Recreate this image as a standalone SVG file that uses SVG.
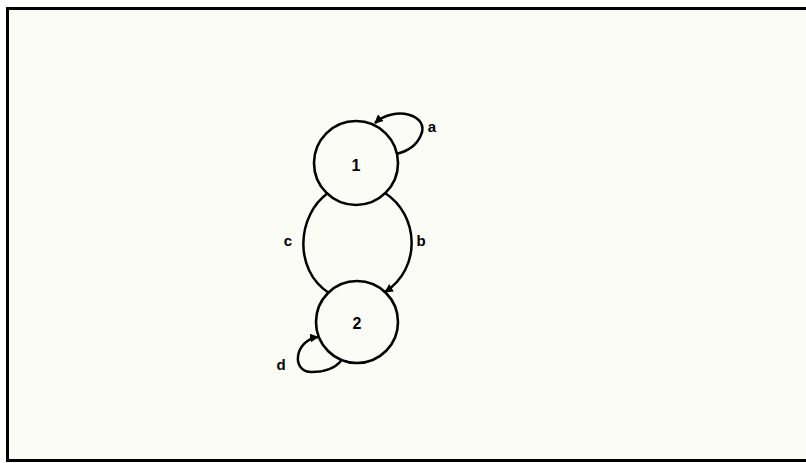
<svg xmlns="http://www.w3.org/2000/svg" width="806" height="463" viewBox="0 0 806 463">
<style>
.ln{fill:none;stroke:#000;stroke-width:2.5}
.nd{fill:none;stroke:#000;stroke-width:2.6}
.lb{font-family:"Liberation Sans",Arial,sans-serif;font-weight:bold;font-size:15px;fill:#000}
.nl{font-family:"Liberation Sans",Arial,sans-serif;font-weight:bold;font-size:16px;fill:#000}
</style>
<defs>
<marker id="ah" viewBox="0 0 10 10" refX="9" refY="5" markerWidth="3.5" markerHeight="3.5" orient="auto-start-reverse" markerUnits="strokeWidth">
<path d="M0,0 L10,5 L0,10 z" fill="#000"/>
</marker>
</defs>
<rect x="0" y="0" width="806" height="463" fill="#ffffff"/>
<rect x="7.5" y="8.5" width="810" height="452" fill="#fcfcf7" stroke="#000" stroke-width="3"/>
<g id="connectors">
<path class="ln" d="M328,193 C297,215 293,270 329,293"/>
<path class="ln" d="M385,193 C419,215 422,268 385,292" marker-end="url(#ah)"/>
<path class="ln" d="M375,123 C395,105 430,115 421,135 C416,147 405,152 396,154" marker-start="url(#ah)"/>
<path class="ln" d="M318,337 C295,340 290,372 312,372 C325,372 335,368 341,361" marker-start="url(#ah)"/>
<text class="lb" x="432" y="132" text-anchor="middle">a</text>
<text class="lb" x="288" y="246" text-anchor="middle">c</text>
<text class="lb" x="421" y="246" text-anchor="middle">b</text>
<text class="lb" x="281" y="370" text-anchor="middle">d</text>
</g>
<g id="node1">
<circle class="nd" cx="356" cy="163" r="42"/>
<text class="nl" x="356" y="171" text-anchor="middle">1</text>
</g>
<g id="node2">
<circle class="nd" cx="357" cy="322" r="41"/>
<text class="nl" x="357" y="329" text-anchor="middle">2</text>
</g>
</svg>
